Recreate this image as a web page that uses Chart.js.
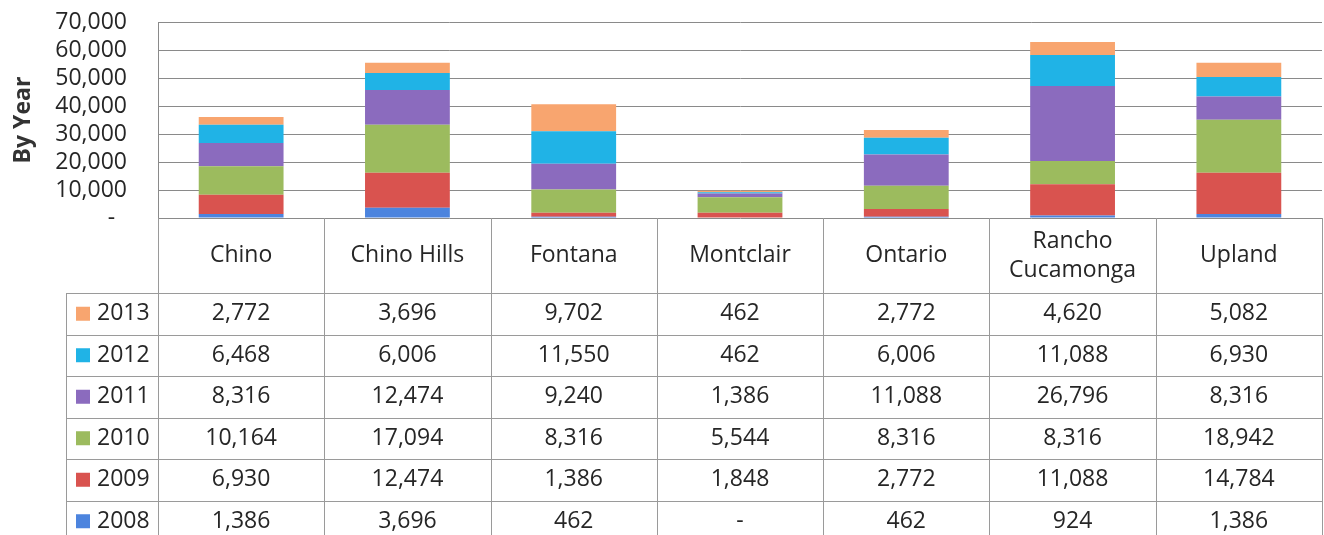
<!DOCTYPE html>
<html>
<head>
<meta charset="utf-8">
<script src="https://cdn.jsdelivr.net/npm/chart.js@4"></script>
<style>
  html,body{margin:0;padding:0;background:#fff;}
  #wrap{width:1324px;height:535px;position:relative;}
</style>
</head>
<body>
<div id="wrap"><canvas id="c" width="1324" height="535"></canvas></div>
<script>
const categories = ['Chino', 'Chino Hills', 'Fontana', 'Montclair', 'Ontario', 'Rancho Cucamonga', 'Upland'];
const years = ['2008', '2009', '2010', '2011', '2012', '2013'];
const v2008 = [1386, 3696, 462, 0, 462, 924, 1386];
const v2009 = [6930, 12474, 1386, 1848, 2772, 11088, 14784];
const v2010 = [10164, 17094, 8316, 5544, 8316, 8316, 18942];
const v2011 = [8316, 12474, 9240, 1386, 11088, 26796, 8316];
const v2012 = [6468, 6006, 11550, 462, 6006, 11088, 6930];
const v2013 = [2772, 3696, 9702, 462, 2772, 4620, 5082];
const yTicks = [0, 10000, 20000, 30000, 40000, 50000, 60000, 70000];

const seriesValues = [v2008, v2009, v2010, v2011, v2012, v2013];
const colors = ['#4C84DE', '#D9534F', '#9CBB5E', '#8B6BBE', '#20B3E6', '#F8A56F'];
const FONT = '"Open Sans", "Liberation Sans", sans-serif';
const TXT = '#262626';

function fmt(v){ return v === 0 ? '-' : v.toLocaleString('en-US'); }

const tablePlugin = {
  id: 'dataTable',
  afterDraw(chart){
    const ctx = chart.ctx, a = chart.chartArea;
    const n = categories.length;
    const w = (a.right - a.left) / n;
    const top = a.bottom;
    const headBottom = top + 75;
    const rowH = 41.5;
    const legLeft = 66;
    const nRows = years.length;
    const bottom = headBottom + rowH * nRows;
    ctx.save();
    ctx.strokeStyle = '#9a9a9a';
    ctx.lineWidth = 1;
    for (let i = 0; i <= n; i++) {
      const x = Math.round(a.left + i * w) + 0.5;
      ctx.beginPath(); ctx.moveTo(x, top); ctx.lineTo(x, bottom); ctx.stroke();
    }
    const lx = legLeft + 0.5;
    ctx.beginPath(); ctx.moveTo(lx, headBottom); ctx.lineTo(lx, bottom); ctx.stroke();
    for (let r = 0; r <= nRows; r++) {
      const y = Math.round(headBottom + r * rowH) + 0.5;
      ctx.beginPath(); ctx.moveTo(legLeft, y); ctx.lineTo(a.right, y); ctx.stroke();
    }
    ctx.fillStyle = TXT;
    ctx.font = '23px ' + FONT;
    ctx.textAlign = 'center';
    ctx.textBaseline = 'middle';
    categories.forEach((c, i) => {
      const cx = a.left + (i + 0.5) * w;
      const parts = c === 'Rancho Cucamonga' ? ['Rancho', 'Cucamonga'] : [c];
      if (parts.length === 1) ctx.fillText(c, cx, top + 37);
      else { ctx.fillText(parts[0], cx, top + 23); ctx.fillText(parts[1], cx, top + 52); }
    });
    for (let r = 0; r < nRows; r++) {
      const si = nRows - 1 - r;
      const cy = headBottom + r * rowH + rowH / 2;
      ctx.fillStyle = colors[si];
      ctx.fillRect(legLeft + 10, cy - 7, 14, 14);
      ctx.fillStyle = TXT;
      ctx.textAlign = 'left';
      ctx.fillText(years[si], legLeft + 31, cy);
      ctx.textAlign = 'center';
      seriesValues[si].forEach((v, i) => {
        ctx.fillText(fmt(v), a.left + (i + 0.5) * w, cy);
      });
    }
    ctx.restore();
  }
};

const datasets = years.map((y, i) => ({
  label: y,
  data: seriesValues[i],
  backgroundColor: colors[i],
  borderWidth: 0,
  barPercentage: 0.51,
  categoryPercentage: 1.0
}));

new Chart(document.getElementById('c'), {
  type: 'bar',
  data: { labels: categories, datasets },
  options: {
    responsive: false,
    animation: false,
    layout: { padding: { left: 0, top: 22, right: 2, bottom: 317 } },
    plugins: { legend: { display: false }, tooltip: { enabled: false } },
    scales: {
      x: { stacked: true, display: false },
      y: {
        stacked: true,
        min: 0, max: 70000,
        afterBuildTicks(s){ s.ticks = yTicks.map(v => ({ value: v })); },
        afterFit(s){ s.width = 158; s.paddingTop = 0; s.paddingBottom = 0; },
        ticks: {
          autoSkip: false,
          callback: v => v === 0 ? '-  ' : v.toLocaleString('en-US'),
          font: { family: FONT, size: 23 },
          color: TXT,
          padding: 31
        },
        grid: { color: '#8a8a8a', lineWidth: 1, drawTicks: false },
        border: { display: true, color: '#8a8a8a' },
        title: {
          display: true, text: 'By Year',
          font: { family: FONT, size: 23, weight: 'bold' },
          color: '#333', padding: { top: 10, bottom: 0 }
        }
      }
    }
  },
  plugins: [tablePlugin]
});
</script>
</body>
</html>
